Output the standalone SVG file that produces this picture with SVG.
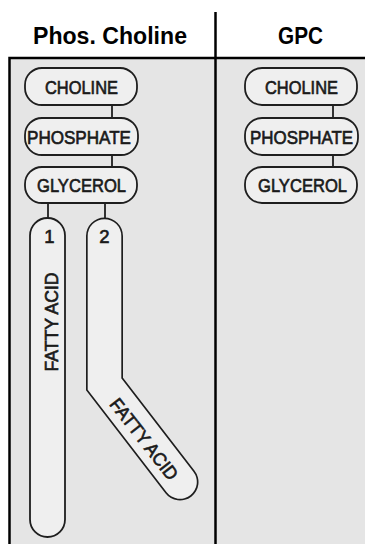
<svg xmlns="http://www.w3.org/2000/svg" width="365" height="544" viewBox="0 0 365 544">
  <style>
    .hdr { font-family: "Liberation Sans", Arial, sans-serif; font-weight: bold; font-size: 23.5px; fill: #000; text-anchor: middle; }
    .lbl { font-family: "Liberation Sans", Arial, sans-serif; font-size: 18.5px; fill: #1a1a1a; stroke: #1a1a1a; stroke-width: 0.65; text-anchor: middle; }
    .pill { fill: #efefef; stroke: #1e1e1e; stroke-width: 1.8; }
    .conn { stroke: #1e1e1e; stroke-width: 1.8; fill: none; }
  </style>
  <rect x="0" y="0" width="365" height="544" fill="#ffffff"/>
  <g id="panel">
    <rect x="9.5" y="58" width="360" height="490" fill="#e5e5e5" stroke="#000" stroke-width="2.5"/>
    <line x1="215.5" y1="12" x2="215.5" y2="544" stroke="#000" stroke-width="2.5"/>
  </g>
  <g id="headers">
    <text class="hdr" x="110" y="44" textLength="154" lengthAdjust="spacingAndGlyphs">Phos. Choline</text>
    <text class="hdr" x="300.5" y="44" textLength="45" lengthAdjust="spacingAndGlyphs">GPC</text>
  </g>
  <g id="connectors">
    <line class="conn" x1="112" y1="105" x2="112" y2="118"/>
    <line class="conn" x1="112" y1="155" x2="112" y2="167"/>
    <line class="conn" x1="333" y1="105" x2="333" y2="118"/>
    <line class="conn" x1="333" y1="155" x2="333" y2="167"/>
    <line class="conn" x1="48" y1="203" x2="48" y2="218"/>
    <line class="conn" x1="105" y1="203" x2="105" y2="218"/>
  </g>
  <g id="pc-choline">
    <rect class="pill" x="25" y="68" width="112" height="37" rx="17"/>
    <text class="lbl" x="81.5" y="93.5" textLength="73" lengthAdjust="spacingAndGlyphs">CHOLINE</text>
  </g>
  <g id="pc-phosphate">
    <rect class="pill" x="25" y="118" width="113" height="37" rx="17"/>
    <text class="lbl" x="79" y="143.5" textLength="104" lengthAdjust="spacingAndGlyphs">PHOSPHATE</text>
  </g>
  <g id="pc-glycerol">
    <rect class="pill" x="25" y="167" width="112" height="36" rx="17"/>
    <text class="lbl" x="81.5" y="192" textLength="89" lengthAdjust="spacingAndGlyphs">GLYCEROL</text>
  </g>
  <g id="fatty-acid-1">
    <rect class="pill" x="30" y="218" width="35" height="319" rx="17.5"/>
    <text class="lbl" x="49.5" y="242.5">1</text>
    <text class="lbl" transform="translate(57.5,322) rotate(-90)" x="0" y="0" textLength="99" lengthAdjust="spacingAndGlyphs">FATTY ACID</text>
  </g>
  <g id="fatty-acid-2">
    <path d="M104.5,236 L104.5,384 L180,482" fill="none" stroke="#1e1e1e" stroke-width="37" stroke-linecap="round" stroke-linejoin="miter"/>
    <path d="M104.5,236 L104.5,384 L180,482" fill="none" stroke="#efefef" stroke-width="33.6" stroke-linecap="round" stroke-linejoin="miter"/>
    <text class="lbl" x="104.5" y="242.5">2</text>
    <text class="lbl" transform="translate(139,443) rotate(52)" x="0" y="0" textLength="98" lengthAdjust="spacingAndGlyphs">FATTY ACID</text>
  </g>
  <g id="gpc-choline">
    <rect class="pill" x="245" y="68" width="112" height="37" rx="17"/>
    <text class="lbl" x="301.5" y="93.5" textLength="73" lengthAdjust="spacingAndGlyphs">CHOLINE</text>
  </g>
  <g id="gpc-phosphate">
    <rect class="pill" x="245" y="118" width="113" height="37" rx="17"/>
    <text class="lbl" x="301.5" y="143.5" textLength="103" lengthAdjust="spacingAndGlyphs">PHOSPHATE</text>
  </g>
  <g id="gpc-glycerol">
    <rect class="pill" x="245" y="167" width="112" height="36" rx="17"/>
    <text class="lbl" x="302.5" y="192" textLength="89" lengthAdjust="spacingAndGlyphs">GLYCEROL</text>
  </g>
</svg>
